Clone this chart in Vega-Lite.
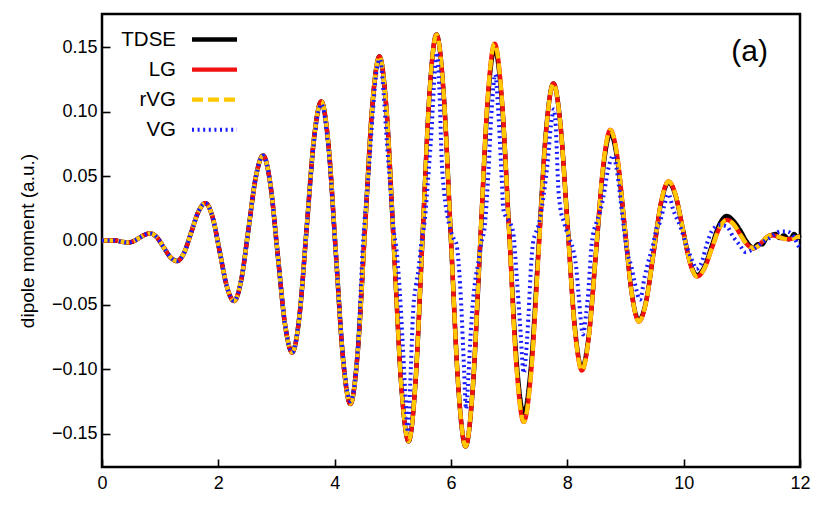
{
  "$schema": "https://vega.github.io/schema/vega-lite/v6.json",
  "width": 698,
  "height": 453,
  "autosize": {"type": "none"},
  "padding": {"left": 102, "top": 14, "right": 28, "bottom": 43},
  "background": "white",
  "config": {
    "font": "Liberation Sans",
    "view": {"stroke": "black", "strokeWidth": 2.5},
    "axis": {"domain": false, "ticks": true, "tickColor": "black", "tickWidth": 1.6, "labelColor": "black", "labelFontSize": 18, "labelFont": "Liberation Sans", "grid": false, "titleFont": "Liberation Sans", "titleFontWeight": "normal", "titleColor": "black", "titleFontSize": 19, "zindex": 1},
    "legend": {"orient": "none", "legendX": 99, "legendY": 12, "padding": 0, "labelFontSize": 20.5, "labelFont": "Liberation Sans", "labelColor": "black", "labelAlign": "right", "labelOffset": -52, "symbolSize": 506.25, "symbolType": "M-2,0H2", "rowPadding": 6.1, "labelLimit": 0}
  },
  "title": {"text": "(a)", "anchor": "end", "orient": "top", "frame": "group", "offset": 0, "dx": -32, "dy": 68, "baseline": "middle", "fontSize": 30, "fontWeight": "normal", "font": "Liberation Sans", "color": "black"},
  "datasets": {
    "main": [
      {"t":0,"TDSE":0,"LG":0,"rVG":0},
      {"t":0.1,"TDSE":0,"LG":0,"rVG":0},
      {"t":0.2,"TDSE":0,"LG":0,"rVG":0},
      {"t":0.2625,"TDSE":-0.0002,"LG":-0.0002,"rVG":-0.0002},
      {"t":0.325,"TDSE":-0.0008,"LG":-0.0008,"rVG":-0.0008},
      {"t":0.3875,"TDSE":-0.0013,"LG":-0.0013,"rVG":-0.0013},
      {"t":0.45,"TDSE":-0.0015,"LG":-0.0015,"rVG":-0.0015},
      {"t":0.545,"TDSE":-0.0005,"LG":-0.0005,"rVG":-0.0005},
      {"t":0.64,"TDSE":0.002,"LG":0.002,"rVG":0.002},
      {"t":0.735,"TDSE":0.0045,"LG":0.0045,"rVG":0.0045},
      {"t":0.83,"TDSE":0.0055,"LG":0.0055,"rVG":0.0055},
      {"t":0.945,"TDSE":0.0024,"LG":0.0024,"rVG":0.0024},
      {"t":1.06,"TDSE":-0.0053,"LG":-0.0053,"rVG":-0.0053},
      {"t":1.175,"TDSE":-0.0129,"LG":-0.0129,"rVG":-0.0129},
      {"t":1.29,"TDSE":-0.016,"LG":-0.016,"rVG":-0.016},
      {"t":1.4125,"TDSE":-0.0094,"LG":-0.0094,"rVG":-0.0094},
      {"t":1.535,"TDSE":0.0065,"LG":0.0065,"rVG":0.0065},
      {"t":1.6575,"TDSE":0.0224,"LG":0.0224,"rVG":0.0224},
      {"t":1.78,"TDSE":0.029,"LG":0.029,"rVG":0.029},
      {"t":1.9025,"TDSE":0.0179,"LG":0.0179,"rVG":0.0179},
      {"t":2.025,"TDSE":-0.009,"LG":-0.009,"rVG":-0.009},
      {"t":2.1475,"TDSE":-0.0359,"LG":-0.0359,"rVG":-0.0359},
      {"t":2.27,"TDSE":-0.047,"LG":-0.047,"rVG":-0.047},
      {"t":2.395,"TDSE":-0.0304,"LG":-0.0304,"rVG":-0.0304},
      {"t":2.52,"TDSE":0.0095,"LG":0.0095,"rVG":0.0095},
      {"t":2.645,"TDSE":0.0494,"LG":0.0494,"rVG":0.0494},
      {"t":2.77,"TDSE":0.066,"LG":0.066,"rVG":0.066},
      {"t":2.895,"TDSE":0.0436,"LG":0.0436,"rVG":0.0436},
      {"t":3.02,"TDSE":-0.0105,"LG":-0.0105,"rVG":-0.0105},
      {"t":3.145,"TDSE":-0.0646,"LG":-0.0646,"rVG":-0.0646},
      {"t":3.27,"TDSE":-0.087,"LG":-0.087,"rVG":-0.087},
      {"t":3.395,"TDSE":-0.0584,"LG":-0.0584,"rVG":-0.0584},
      {"t":3.52,"TDSE":0.0105,"LG":0.0105,"rVG":0.0105},
      {"t":3.645,"TDSE":0.0794,"LG":0.0794,"rVG":0.0794},
      {"t":3.77,"TDSE":0.108,"LG":0.108,"rVG":0.108},
      {"t":3.895,"TDSE":0.0736,"LG":0.0736,"rVG":0.0736},
      {"t":4.02,"TDSE":-0.0095,"LG":-0.0095,"rVG":-0.0095},
      {"t":4.145,"TDSE":-0.0926,"LG":-0.0926,"rVG":-0.0926},
      {"t":4.27,"TDSE":-0.127,"LG":-0.127,"rVG":-0.127},
      {"t":4.395,"TDSE":-0.0874,"LG":-0.0874,"rVG":-0.0874},
      {"t":4.52,"TDSE":0.008,"LG":0.008,"rVG":0.008},
      {"t":4.645,"TDSE":0.1034,"LG":0.1034,"rVG":0.1034},
      {"t":4.77,"TDSE":0.143,"LG":0.143,"rVG":0.143},
      {"t":4.895,"TDSE":0.0992,"LG":0.0992,"rVG":0.0992},
      {"t":5.02,"TDSE":-0.0065,"LG":-0.0065,"rVG":-0.0065},
      {"t":5.145,"TDSE":-0.1122,"LG":-0.1122,"rVG":-0.1122},
      {"t":5.27,"TDSE":-0.156,"LG":-0.156,"rVG":-0.156},
      {"t":5.39,"TDSE":-0.1097,"LG":-0.1097,"rVG":-0.1097},
      {"t":5.51,"TDSE":0.002,"LG":0.002,"rVG":0.002},
      {"t":5.63,"TDSE":0.1137,"LG":0.1137,"rVG":0.1137},
      {"t":5.75,"TDSE":0.16,"LG":0.16,"rVG":0.16},
      {"t":5.875,"TDSE":0.1131,"LG":0.1131,"rVG":0.1131},
      {"t":6.0,"TDSE":0,"LG":0,"rVG":0},
      {"t":6.125,"TDSE":-0.1131,"LG":-0.1131,"rVG":-0.1131},
      {"t":6.25,"TDSE":-0.16,"LG":-0.16,"rVG":-0.16},
      {"t":6.375,"TDSE":-0.1147,"LG":-0.1141,"rVG":-0.1141},
      {"t":6.5,"TDSE":-0.0055,"LG":-0.0035,"rVG":-0.0035},
      {"t":6.625,"TDSE":0.1037,"LG":0.1072,"rVG":0.1072},
      {"t":6.75,"TDSE":0.149,"LG":0.153,"rVG":0.153},
      {"t":6.875,"TDSE":0.1075,"LG":0.1099,"rVG":0.1099},
      {"t":7.0,"TDSE":0.0075,"LG":0.006,"rVG":0.006},
      {"t":7.125,"TDSE":-0.0925,"LG":-0.0979,"rVG":-0.0979},
      {"t":7.25,"TDSE":-0.134,"LG":-0.141,"rVG":-0.141},
      {"t":7.3775,"TDSE":-0.0965,"LG":-0.1025,"rVG":-0.1025},
      {"t":7.505,"TDSE":-0.006,"LG":-0.0095,"rVG":-0.0095},
      {"t":7.6325,"TDSE":0.0845,"LG":0.0835,"rVG":0.0835},
      {"t":7.76,"TDSE":0.122,"LG":0.122,"rVG":0.122},
      {"t":7.8825,"TDSE":0.0896,"LG":0.0893,"rVG":0.0893},
      {"t":8.005,"TDSE":0.0115,"LG":0.0105,"rVG":0.0105},
      {"t":8.1275,"TDSE":-0.0666,"LG":-0.0683,"rVG":-0.0683},
      {"t":8.25,"TDSE":-0.099,"LG":-0.101,"rVG":-0.101},
      {"t":8.3725,"TDSE":-0.0723,"LG":-0.0736,"rVG":-0.0736},
      {"t":8.495,"TDSE":-0.008,"LG":-0.0075,"rVG":-0.0075},
      {"t":8.6175,"TDSE":0.0563,"LG":0.0586,"rVG":0.0586},
      {"t":8.74,"TDSE":0.083,"LG":0.086,"rVG":0.086},
      {"t":8.8625,"TDSE":0.0618,"LG":0.0642,"rVG":0.0642},
      {"t":8.985,"TDSE":0.0105,"LG":0.0115,"rVG":0.0115},
      {"t":9.1075,"TDSE":-0.0408,"LG":-0.0412,"rVG":-0.0412},
      {"t":9.23,"TDSE":-0.062,"LG":-0.063,"rVG":-0.063},
      {"t":9.3575,"TDSE":-0.0463,"LG":-0.047,"rVG":-0.047},
      {"t":9.485,"TDSE":-0.0085,"LG":-0.0085,"rVG":-0.0085},
      {"t":9.6125,"TDSE":0.0293,"LG":0.03,"rVG":0.03},
      {"t":9.74,"TDSE":0.045,"LG":0.046,"rVG":0.046},
      {"t":9.8625,"TDSE":0.0345,"LG":0.0352,"rVG":0.0352},
      {"t":9.985,"TDSE":0.009,"LG":0.009,"rVG":0.009},
      {"t":10.1075,"TDSE":-0.0165,"LG":-0.0172,"rVG":-0.0172},
      {"t":10.23,"TDSE":-0.027,"LG":-0.028,"rVG":-0.028},
      {"t":10.3575,"TDSE":-0.0203,"LG":-0.0216,"rVG":-0.0216},
      {"t":10.485,"TDSE":-0.004,"LG":-0.006,"rVG":-0.006},
      {"t":10.6125,"TDSE":0.0123,"LG":0.0096,"rVG":0.0096},
      {"t":10.74,"TDSE":0.019,"LG":0.016,"rVG":0.016},
      {"t":10.855,"TDSE":0.0153,"LG":0.0128,"rVG":0.0128},
      {"t":10.97,"TDSE":0.008,"LG":0.005,"rVG":0.005},
      {"t":11.085,"TDSE":-0.001,"LG":-0.0028,"rVG":-0.0028},
      {"t":11.2,"TDSE":-0.006,"LG":-0.006,"rVG":-0.006},
      {"t":11.275,"TDSE":-0.003,"LG":-0.0045,"rVG":-0.0045},
      {"t":11.35,"TDSE":-0.003,"LG":-0.001,"rVG":-0.001},
      {"t":11.425,"TDSE":0.002,"LG":0.0025,"rVG":0.0025},
      {"t":11.5,"TDSE":0.004,"LG":0.004,"rVG":0.004},
      {"t":11.575,"TDSE":0.005,"LG":0.0036,"rVG":0.0036},
      {"t":11.65,"TDSE":0.002,"LG":0.0025,"rVG":0.0025},
      {"t":11.725,"TDSE":0.004,"LG":0.0014,"rVG":0.0014},
      {"t":11.8,"TDSE":0.001,"LG":0.001,"rVG":0.001},
      {"t":11.85,"TDSE":0.002,"LG":0.0013,"rVG":0.0013},
      {"t":11.9,"TDSE":0.005,"LG":0.002,"rVG":0.002},
      {"t":11.95,"TDSE":0.002,"LG":0.0027,"rVG":0.0027},
      {"t":12.0,"TDSE":0.004,"LG":0.003,"rVG":0.003}
    ],
    "vg": [
      {"t":0,"VG":0},
      {"t":0.1,"VG":0},
      {"t":0.2,"VG":0},
      {"t":0.2625,"VG":-0.0002},
      {"t":0.325,"VG":-0.0008},
      {"t":0.3875,"VG":-0.0013},
      {"t":0.45,"VG":-0.0015},
      {"t":0.545,"VG":-0.0005},
      {"t":0.64,"VG":0.002},
      {"t":0.735,"VG":0.0045},
      {"t":0.83,"VG":0.0055},
      {"t":0.945,"VG":0.0024},
      {"t":1.06,"VG":-0.0053},
      {"t":1.175,"VG":-0.0129},
      {"t":1.29,"VG":-0.016},
      {"t":1.4125,"VG":-0.0094},
      {"t":1.535,"VG":0.0065},
      {"t":1.6575,"VG":0.0224},
      {"t":1.78,"VG":0.029},
      {"t":1.9025,"VG":0.0179},
      {"t":2.025,"VG":-0.009},
      {"t":2.1475,"VG":-0.0359},
      {"t":2.27,"VG":-0.047},
      {"t":2.395,"VG":-0.0304},
      {"t":2.52,"VG":0.0095},
      {"t":2.645,"VG":0.0494},
      {"t":2.77,"VG":0.066},
      {"t":2.895,"VG":0.0436},
      {"t":3.02,"VG":-0.0105},
      {"t":3.145,"VG":-0.0646},
      {"t":3.27,"VG":-0.087},
      {"t":3.395,"VG":-0.0584},
      {"t":3.52,"VG":0.0105},
      {"t":3.645,"VG":0.077},
      {"t":3.77,"VG":0.106},
      {"t":3.895,"VG":0.07},
      {"t":4.02,"VG":-0.011},
      {"t":4.145,"VG":-0.09},
      {"t":4.27,"VG":-0.125},
      {"t":4.395,"VG":-0.086},
      {"t":4.49,"VG":0.0},
      {"t":4.58,"VG":0.05},
      {"t":4.66,"VG":0.102},
      {"t":4.72,"VG":0.132},
      {"t":4.78,"VG":0.141},
      {"t":4.84,"VG":0.115},
      {"t":4.9,"VG":0.075},
      {"t":4.95,"VG":0.045},
      {"t":5.01,"VG":0.01},
      {"t":5.07,"VG":-0.01},
      {"t":5.12,"VG":-0.04},
      {"t":5.17,"VG":-0.08},
      {"t":5.21,"VG":-0.115},
      {"t":5.26,"VG":-0.149},
      {"t":5.3,"VG":-0.11},
      {"t":5.35,"VG":-0.054},
      {"t":5.4,"VG":-0.034},
      {"t":5.44,"VG":-0.023},
      {"t":5.49,"VG":-0.002},
      {"t":5.55,"VG":0.016},
      {"t":5.61,"VG":0.05},
      {"t":5.67,"VG":0.089},
      {"t":5.72,"VG":0.13},
      {"t":5.76,"VG":0.146},
      {"t":5.8,"VG":0.118},
      {"t":5.84,"VG":0.063},
      {"t":5.88,"VG":0.038},
      {"t":5.92,"VG":0.024},
      {"t":5.96,"VG":0.014},
      {"t":6.0,"VG":0.007},
      {"t":6.05,"VG":0.001},
      {"t":6.09,"VG":-0.002},
      {"t":6.13,"VG":-0.017},
      {"t":6.18,"VG":-0.054},
      {"t":6.22,"VG":-0.095},
      {"t":6.26,"VG":-0.131},
      {"t":6.3,"VG":-0.105},
      {"t":6.33,"VG":-0.079},
      {"t":6.38,"VG":-0.046},
      {"t":6.42,"VG":-0.03},
      {"t":6.47,"VG":-0.017},
      {"t":6.52,"VG":-0.002},
      {"t":6.58,"VG":0.011},
      {"t":6.64,"VG":0.05},
      {"t":6.7,"VG":0.102},
      {"t":6.76,"VG":0.129},
      {"t":6.81,"VG":0.102},
      {"t":6.87,"VG":0.05},
      {"t":6.9,"VG":0.024},
      {"t":6.95,"VG":0.018},
      {"t":7.01,"VG":0.014},
      {"t":7.07,"VG":0.006},
      {"t":7.13,"VG":-0.028},
      {"t":7.19,"VG":-0.067},
      {"t":7.25,"VG":-0.103},
      {"t":7.29,"VG":-0.088},
      {"t":7.33,"VG":-0.06},
      {"t":7.38,"VG":-0.017},
      {"t":7.41,"VG":-0.002},
      {"t":7.45,"VG":0.005},
      {"t":7.5,"VG":0.011},
      {"t":7.59,"VG":0.034},
      {"t":7.66,"VG":0.06},
      {"t":7.72,"VG":0.09},
      {"t":7.77,"VG":0.102},
      {"t":7.81,"VG":0.08},
      {"t":7.84,"VG":0.045},
      {"t":7.88,"VG":0.025},
      {"t":7.93,"VG":0.016},
      {"t":8.02,"VG":0.003},
      {"t":8.1,"VG":-0.007},
      {"t":8.15,"VG":-0.02},
      {"t":8.19,"VG":-0.04},
      {"t":8.27,"VG":-0.073},
      {"t":8.32,"VG":-0.058},
      {"t":8.36,"VG":-0.04},
      {"t":8.42,"VG":-0.002},
      {"t":8.5,"VG":0.014},
      {"t":8.56,"VG":0.022},
      {"t":8.62,"VG":0.034},
      {"t":8.7,"VG":0.055},
      {"t":8.79,"VG":0.066},
      {"t":8.84,"VG":0.058},
      {"t":8.88,"VG":0.045},
      {"t":8.96,"VG":0.014},
      {"t":9.02,"VG":-0.007},
      {"t":9.1,"VG":-0.02},
      {"t":9.16,"VG":-0.033},
      {"t":9.25,"VG":-0.046},
      {"t":9.33,"VG":-0.028},
      {"t":9.39,"VG":-0.017},
      {"t":9.48,"VG":-0.002},
      {"t":9.53,"VG":0.009},
      {"t":9.59,"VG":0.014},
      {"t":9.66,"VG":0.026},
      {"t":9.74,"VG":0.036},
      {"t":9.82,"VG":0.024},
      {"t":9.94,"VG":0.011},
      {"t":10.05,"VG":-0.004},
      {"t":10.16,"VG":-0.017},
      {"t":10.22,"VG":-0.022},
      {"t":10.31,"VG":-0.017},
      {"t":10.39,"VG":-0.004},
      {"t":10.48,"VG":0.007},
      {"t":10.62,"VG":0.012},
      {"t":10.74,"VG":0.011},
      {"t":10.85,"VG":0.003},
      {"t":10.97,"VG":-0.004},
      {"t":11.06,"VG":-0.009},
      {"t":11.14,"VG":-0.008},
      {"t":11.22,"VG":-0.006},
      {"t":11.31,"VG":-0.003},
      {"t":11.4,"VG":0.0},
      {"t":11.48,"VG":0.002},
      {"t":11.57,"VG":0.005},
      {"t":11.66,"VG":0.007},
      {"t":11.77,"VG":0.007},
      {"t":11.88,"VG":0.004},
      {"t":11.97,"VG":-0.004},
      {"t":12.0,"VG":-0.006}
    ]
  },
  "encoding": {
    "x": {"field": "t", "type": "quantitative", "scale": {"domain": [0, 12], "nice": false}, "axis": {"values": [0, 2, 4, 6, 8, 10, 12], "format": "d", "title": null, "labelFlush": false, "offset": -8, "tickSize": 8, "labelPadding": 7}},
    "y": {"field": "d", "type": "quantitative", "scale": {"domain": [-0.176, 0.176], "nice": false, "zero": false}, "axis": {"values": [-0.15, -0.1, -0.05, 0, 0.05, 0.1, 0.15], "format": ".2f", "title": "dipole moment (a.u.)", "offset": -8, "tickSize": 8, "labelPadding": 5, "titlePadding": 14}},
    "color": {"field": "series", "type": "nominal", "scale": {"domain": ["TDSE", "LG", "rVG", "VG"], "range": ["#000000", "#f21010", "#ffc800", "#1a1aff"]}, "legend": {"title": null}},
    "strokeDash": {"field": "series", "type": "nominal", "scale": {"domain": ["TDSE", "LG", "rVG", "VG"], "range": [[1, 0], [1, 0], [11, 5], [2, 3.6]]}, "legend": {"title": null}},
    "strokeWidth": {"field": "series", "type": "nominal", "scale": {"domain": ["TDSE", "LG", "rVG", "VG"], "range": [4.5, 4, 4, 2.6]}, "legend": {"title": null}}
  },
  "layer": [
    {"data": {"name": "main"}, "transform": [{"fold": ["TDSE"], "as": ["series", "d"]}], "mark": {"type": "line", "interpolate": "monotone"}},
    {"data": {"name": "main"}, "transform": [{"fold": ["LG"], "as": ["series", "d"]}], "mark": {"type": "line", "interpolate": "monotone"}},
    {"data": {"name": "main"}, "transform": [{"fold": ["rVG"], "as": ["series", "d"]}], "mark": {"type": "line", "interpolate": "monotone"}},
    {"data": {"name": "vg"}, "transform": [{"fold": ["VG"], "as": ["series", "d"]}], "mark": {"type": "line", "interpolate": "monotone"}}
  ]
}
